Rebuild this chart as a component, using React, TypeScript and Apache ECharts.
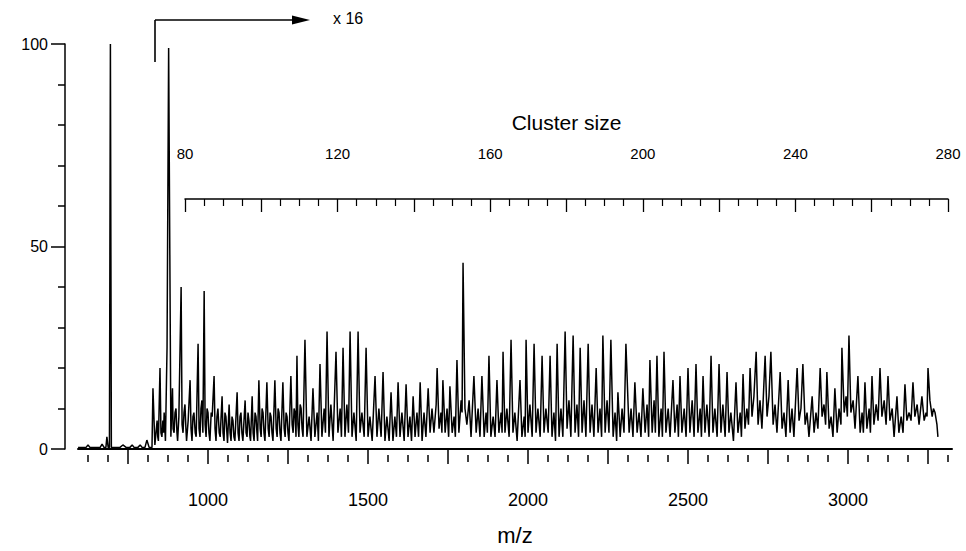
import React, { useEffect, useRef } from "react";
import * as echarts from "echarts";

// ---- axis tick / label values ----
const intensityTicks = [0, 50, 100];
const mzLabelValues = [1000, 1500, 2000, 2500, 3000];
const mzMajorTicks = [750, 1000, 1250, 1500, 1750, 2000, 2250, 2500, 2750, 3000, 3250];
const mzMinorTicks = [
  625, 687.5, 812.5, 875, 937.5, 1062.5, 1125, 1187.5, 1312.5, 1375, 1437.5, 1562.5, 1625,
  1687.5, 1812.5, 1875, 1937.5, 2062.5, 2125, 2187.5, 2312.5, 2375, 2437.5, 2562.5, 2625,
  2687.5, 2812.5, 2875, 2937.5, 3062.5, 3125, 3187.5, 3312.5,
];
const clusterLabelValues = [80, 120, 160, 200, 240, 280];

// ---- spectrum: [m/z, relative intensity] ----
const lowMassTrace: [number, number][] = [
  [594, 0.4], [619, 0.4], [625, 1], [631, 0.4], [663, 0.4], [669, 1.2], [675, 0.4], [681, 0.4],
  [684, 3], [688, 0.4], [692, 0.4], [695, 100], [698, 0.4], [725, 0.4], [734, 1], [744, 0.4],
  [756, 0.4], [763, 1], [769, 0.4], [781, 0.4], [788, 1], [794, 0.4], [803, 0.4], [809, 2.2],
  [816, 0.4], [825, 0.4], [828, 15], [834, 1],
];

const clusterTrace: [number, number][] = [
  [841, 7], [843, 3], [845, 2], [850, 20], [853, 4], [856, 3], [859, 7], [861, 4], [863, 9],
  [867, 2], [872, 25], [877, 99], [884, 3], [889, 15], [891, 5], [894, 4], [897, 9], [900, 10],
  [903, 4], [905, 2], [909, 8], [916, 40], [919, 6], [922, 4], [925, 9], [928, 11], [931, 5],
  [933, 2], [938, 7], [944, 17], [947, 5], [950, 2], [953, 8], [956, 9], [960, 4], [963, 3],
  [969, 26], [972, 5], [975, 3], [978, 10], [981, 12], [984, 4], [988, 39], [991, 6], [994, 3],
  [997, 10], [1000, 9], [1003, 4], [1006, 2], [1010, 9], [1013, 8], [1019, 18], [1022, 5],
  [1025, 2], [1028, 8], [1031, 10], [1035, 4], [1038, 3], [1044, 13], [1047, 4], [1050, 2],
  [1053, 9], [1056, 8], [1059, 4], [1061, 1.5], [1066, 11], [1069, 4], [1072, 2], [1075, 8],
  [1078, 7], [1081, 3], [1084, 2], [1091, 14], [1094, 4], [1097, 2], [1100, 8], [1103, 9],
  [1106, 4], [1109, 2], [1116, 12], [1119, 4], [1122, 3], [1125, 9], [1128, 7], [1131, 3],
  [1133, 2], [1138, 13], [1141, 4], [1144, 2], [1147, 9], [1150, 8], [1153, 4], [1155, 2],
  [1159, 17], [1163, 5], [1166, 3], [1169, 10], [1172, 9], [1175, 4], [1178, 2], [1184, 16.5],
  [1188, 5], [1191, 3], [1194, 9], [1197, 8], [1200, 4], [1203, 2], [1209, 17], [1213, 5],
  [1216, 3], [1219, 10], [1222, 9], [1225, 4], [1228, 2], [1234, 16.5], [1238, 5], [1241, 3],
  [1244, 9], [1247, 8], [1250, 4], [1253, 2], [1259, 18], [1263, 6], [1266, 4], [1269, 10],
  [1272, 9], [1275, 3], [1278, 23], [1281, 6], [1284, 3], [1288, 11], [1291, 10], [1294, 5],
  [1297, 3], [1303, 27], [1309, 3], [1316, 8],
  [1322, 2], [1328, 15], [1334, 3], [1341, 9], [1345, 2], [1350, 21], [1356, 3], [1363, 10],
  [1367, 4], [1372, 29], [1378, 3], [1384, 11], [1391, 2], [1400, 24], [1406, 4], [1413, 10],
  [1417, 3], [1422, 25], [1428, 3], [1434, 11], [1439, 4], [1444, 29], [1450, 3], [1456, 9],
  [1463, 2], [1469, 29], [1475, 4], [1481, 9], [1488, 3], [1494, 25], [1500, 3], [1506, 8],
  [1513, 2], [1522, 18], [1528, 3], [1534, 10], [1541, 3], [1547, 19], [1553, 2], [1559, 8],
  [1566, 2], [1572, 14], [1578, 2], [1584, 8], [1589, 3], [1594, 16.5], [1600, 3], [1606, 9],
  [1613, 2], [1619, 16], [1625, 3], [1631, 8], [1636, 2], [1641, 13], [1647, 3], [1653, 9],
  [1658, 3], [1663, 16.5], [1669, 2], [1675, 9], [1681, 3], [1688, 15], [1694, 4], [1700, 10],
  [1706, 4], [1713, 11], [1716, 20], [1722, 5], [1728, 9], [1731, 4], [1734, 17], [1741, 4],
  [1747, 10], [1752, 3], [1756, 15.5], [1763, 4], [1769, 8], [1773, 3], [1778, 22], [1784, 4],
  [1791, 12], [1794, 9], [1797, 46], [1803, 10], [1809, 6], [1816, 12], [1822, 3], [1831, 18],
  [1838, 4], [1844, 10], [1850, 3], [1856, 18], [1863, 3], [1869, 9], [1873, 4], [1878, 23],
  [1884, 3], [1891, 8], [1897, 3], [1903, 17], [1909, 4], [1916, 9], [1919, 4], [1922, 24],
  [1928, 4], [1934, 10], [1941, 3], [1947, 27], [1953, 4], [1959, 9], [1966, 2], [1975, 17],
  [1981, 3], [1988, 8], [1991, 3], [1994, 27], [2000, 4], [2006, 11], [2013, 3], [2019, 26],
  [2025, 4], [2031, 10], [2038, 3], [2044, 23], [2050, 4], [2056, 10], [2063, 4], [2069, 23],
  [2075, 3], [2081, 9], [2086, 2], [2091, 26], [2097, 3], [2103, 10], [2109, 3], [2116, 29],
  [2122, 5], [2128, 12], [2134, 3], [2141, 28], [2147, 4], [2153, 11], [2158, 3], [2163, 25],
  [2169, 4], [2175, 12], [2181, 3], [2188, 26], [2194, 4], [2200, 11], [2206, 3], [2213, 20],
  [2219, 4], [2225, 10], [2230, 3], [2234, 28], [2241, 4], [2247, 12], [2253, 4], [2259, 27],
  [2266, 3], [2272, 9], [2277, 2], [2281, 14], [2288, 3], [2294, 10], [2300, 4], [2306, 26],
  [2316, 4], [2322, 10], [2328, 3], [2334, 16.5], [2341, 4], [2347, 9], [2353, 3], [2359, 15],
  [2366, 4], [2372, 11], [2377, 3], [2381, 22], [2388, 4], [2394, 12], [2398, 4], [2403, 23],
  [2409, 3], [2416, 10], [2420, 3], [2425, 24], [2431, 4], [2438, 10], [2444, 3], [2453, 17],
  [2459, 4], [2466, 11], [2470, 3], [2475, 18], [2481, 4], [2488, 10], [2494, 3], [2500, 20],
  [2506, 4], [2513, 12], [2519, 3], [2525, 21], [2531, 4], [2538, 10], [2542, 3], [2547, 18],
  [2553, 4], [2559, 11], [2566, 3], [2572, 23], [2578, 4], [2584, 10], [2591, 3], [2597, 21],
  [2603, 4], [2609, 11], [2616, 3], [2622, 19], [2628, 4], [2634, 9], [2642, 2], [2650, 16.5],
  [2656, 4], [2663, 9], [2667, 3], [2672, 18.5], [2678, 5], [2684, 10], [2689, 6], [2694, 20],
  [2700, 8], [2706, 13], [2713, 24], [2719, 6], [2725, 12], [2731, 5], [2741, 23], [2747, 8],
  [2753, 13], [2759, 24], [2766, 6], [2772, 11], [2778, 4], [2788, 19], [2794, 5], [2800, 9],
  [2806, 3], [2813, 17], [2819, 4], [2825, 10], [2831, 3], [2841, 20], [2847, 7], [2853, 10],
  [2859, 21], [2866, 6], [2872, 9], [2878, 3], [2888, 13], [2894, 4], [2900, 9], [2906, 5],
  [2913, 20], [2919, 8], [2925, 11], [2930, 6], [2934, 19], [2941, 5], [2947, 8], [2953, 3],
  [2959, 15], [2966, 4], [2972, 10], [2978, 6], [2981, 25], [2988, 9], [2994, 13], [2998, 8],
  [3003, 28], [3009, 9], [3016, 12], [3022, 5], [3031, 18], [3038, 4], [3044, 9], [3048, 4],
  [3053, 16.5], [3059, 5], [3066, 10], [3070, 4], [3075, 18], [3081, 6], [3088, 11], [3094, 7],
  [3100, 20], [3106, 8], [3113, 12], [3119, 6], [3125, 18], [3131, 7], [3138, 10], [3144, 3],
  [3153, 13], [3159, 4], [3166, 8], [3172, 4], [3178, 16], [3184, 7], [3191, 9], [3197, 7],
  [3203, 16.5], [3209, 8], [3216, 11], [3222, 6], [3231, 13], [3238, 7], [3244, 9], [3247, 8],
  [3250, 20], [3256, 12], [3263, 8], [3267, 10], [3272, 9], [3278, 6], [3281, 3],
];

const FONT = "'Liberation Sans', Arial, Helvetica, sans-serif";

export default function App() {
  const ref = useRef<HTMLDivElement>(null);

  useEffect(() => {
    document.body.style.margin = "0";
    if (!ref.current) return;
    const chart = echarts.init(ref.current, null, { renderer: "svg" });
    const black = "#000";
    const plain = (v: number) => String(v);
    chart.setOption({
      animation: false,
      backgroundColor: "#fff",
      textStyle: { fontFamily: FONT, color: black },
      grid: [
        { left: 78, right: 14, top: 44, bottom: 101 },
        { left: 185, width: 763, top: 179, height: 20 },
      ],
      xAxis: [
        {
          type: "value",
          gridIndex: 0,
          min: 593.75,
          max: 3325,
          position: "bottom",
          offset: 6,
          axisLine: { show: true, lineStyle: { color: black, width: 2 } },
          axisTick: {
            show: true,
            customValues: mzMajorTicks,
            length: 15,
            lineStyle: { color: black, width: 1.5 },
          },
          axisLabel: {
            customValues: mzLabelValues,
            formatter: plain,
            fontSize: 18,
            color: black,
            margin: 36,
            fontFamily: FONT,
          },
          splitLine: { show: false },
          name: "m/z",
          nameLocation: "middle",
          nameGap: 69,
          nameTextStyle: { fontSize: 22, color: black, fontFamily: FONT },
        },
        {
          type: "value",
          gridIndex: 0,
          min: 593.75,
          max: 3325,
          position: "bottom",
          offset: 6,
          axisLine: { show: false },
          axisTick: {
            show: true,
            customValues: mzMinorTicks,
            length: 7,
            lineStyle: { color: black, width: 1.5 },
          },
          axisLabel: { show: false },
          splitLine: { show: false },
        },
        {
          type: "value",
          gridIndex: 1,
          min: 80,
          max: 280,
          interval: 20,
          position: "top",
          axisLine: { show: true, lineStyle: { color: black, width: 1.5 } },
          axisTick: { show: true, inside: true, length: 13, lineStyle: { color: black, width: 1.3 } },
          minorTick: { show: true, splitNumber: 4, length: 7, lineStyle: { color: black, width: 1.2 } },
          axisLabel: {
            customValues: clusterLabelValues,
            formatter: plain,
            fontSize: 15,
            color: black,
            margin: 18,
            fontFamily: FONT,
          },
          splitLine: { show: false },
          name: "Cluster size",
          nameLocation: "middle",
          nameGap: 46,
          nameTextStyle: { fontSize: 21, color: black, fontFamily: FONT },
        },
      ],
      yAxis: [
        {
          type: "value",
          gridIndex: 0,
          min: 0,
          max: 100,
          interval: 50,
          offset: 13,
          axisLine: { show: true, lineStyle: { color: black, width: 1.5 } },
          axisTick: {
            show: true,
            customValues: intensityTicks,
            length: 14,
            lineStyle: { color: black, width: 1.5 },
          },
          minorTick: { show: true, splitNumber: 5, length: 7, lineStyle: { color: black, width: 1.5 } },
          axisLabel: {
            customValues: intensityTicks,
            formatter: plain,
            fontSize: 16,
            color: black,
            margin: 17,
            fontFamily: FONT,
          },
          splitLine: { show: false },
        },
        { type: "value", gridIndex: 1, show: false, min: 0, max: 1 },
      ],
      graphic: [
        {
          type: "line",
          shape: { x1: 155, y1: 20, x2: 155, y2: 62 },
          style: { stroke: black, lineWidth: 1.6 },
        },
        {
          type: "line",
          shape: { x1: 155, y1: 20, x2: 296, y2: 20 },
          style: { stroke: black, lineWidth: 1.6 },
        },
        {
          type: "polygon",
          shape: { points: [[310, 20], [292, 15.5], [292, 24.5]] },
          style: { fill: black },
        },
        {
          type: "text",
          x: 333,
          y: 18,
          style: {
            text: "x 16",
            fontSize: 16,
            fontFamily: FONT,
            fill: black,
            verticalAlign: "middle",
            align: "left",
          },
        },
      ],
      series: [
        {
          type: "line",
          xAxisIndex: 0,
          yAxisIndex: 0,
          data: [...lowMassTrace, ...clusterTrace],
          showSymbol: false,
          symbol: "none",
          lineStyle: { color: "#000", width: 1.5 },
          silent: true,
        },
      ],
    });
    return () => chart.dispose();
  }, []);

  return <div ref={ref} style={{ width: 966, height: 551 }} />;
}
